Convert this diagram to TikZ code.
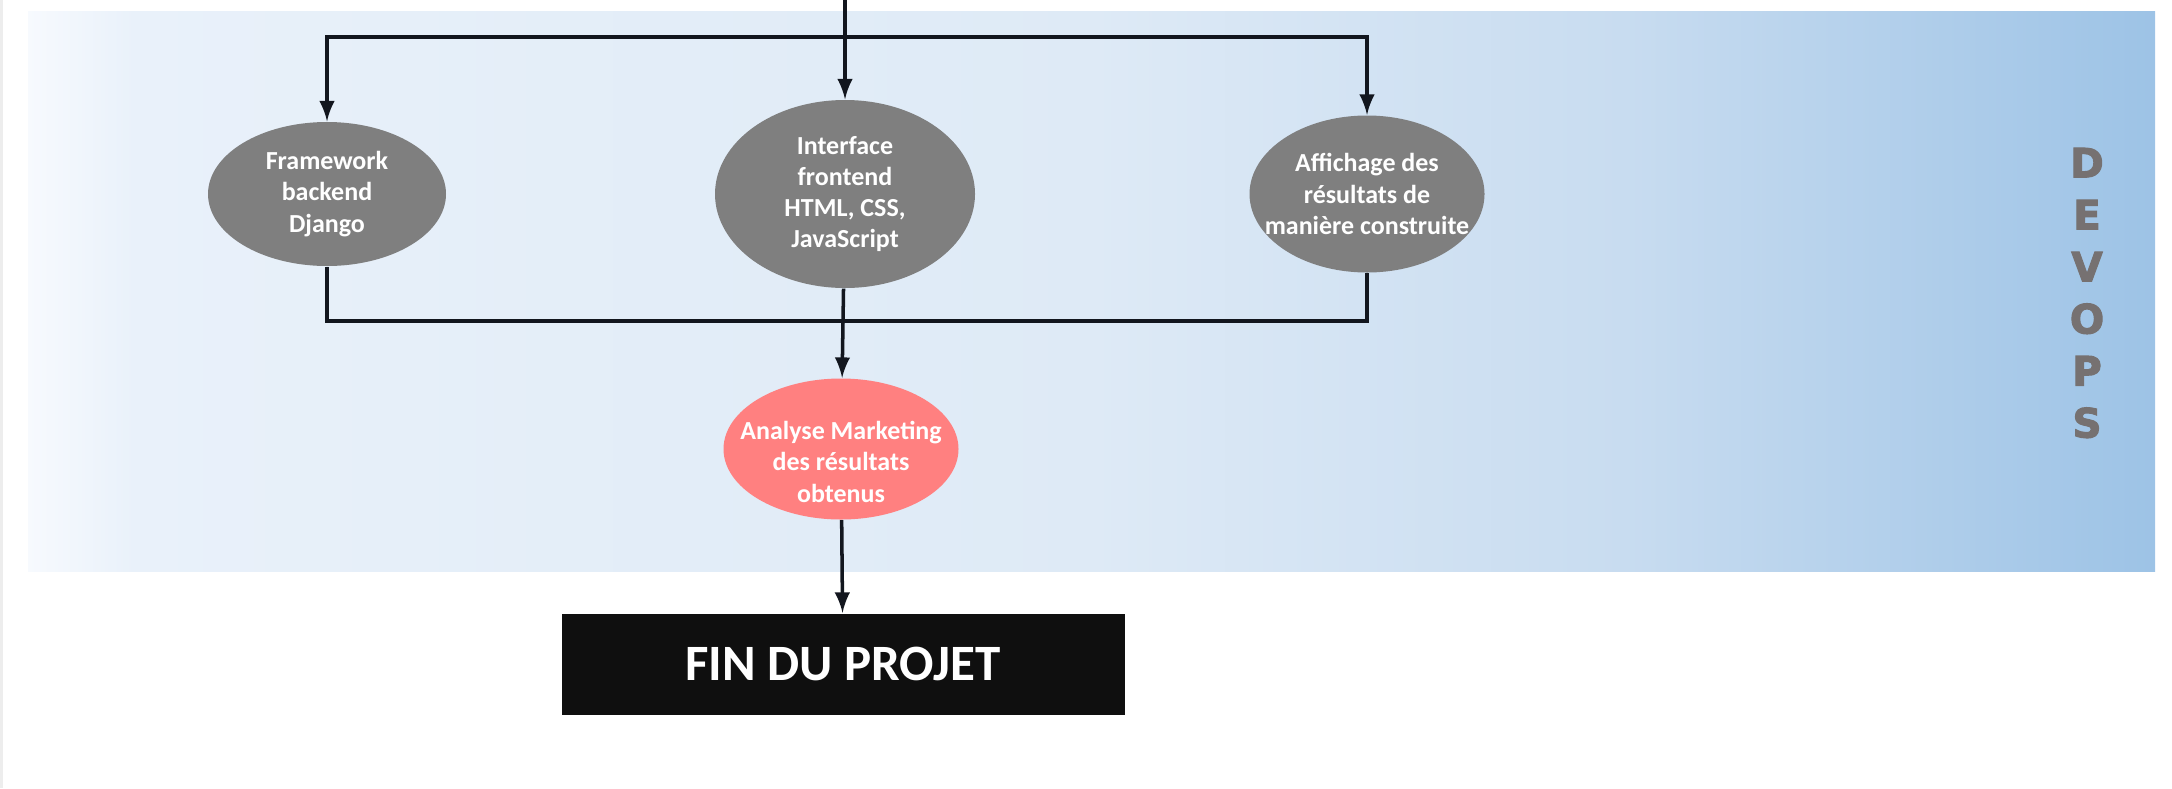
\documentclass[tikz,border=0pt]{standalone}
\usepackage{fontspec}
\setmainfont{Carlito}
\newfontfamily\heavyfont[BoldFeatures={FakeBold=2.6}]{DejaVu Sans}
\usepackage{xcolor}
\usetikzlibrary{shapes.geometric, arrows, positioning, calc}
\definecolor{bandwhite}{RGB}{247,250,254}
\definecolor{bandpale}{RGB}{233,241,250}
\definecolor{bandmid}{RGB}{222,234,246}
\definecolor{bandsoft}{RGB}{200,220,240}
\definecolor{bandblue}{RGB}{157,195,230}
\definecolor{stepgray}{RGB}{127,127,127}
\definecolor{salmon}{RGB}{255,128,128}
\definecolor{devgray}{RGB}{118,113,113}
\definecolor{ink}{RGB}{18,22,30}
\pgfdeclarehorizontalshading{devopsband}{100bp}{color(0bp)=(bandwhite); color(25bp)=(bandwhite); color(27.5bp)=(bandpale); color(50bp)=(bandmid); color(62.5bp)=(bandsoft); color(75bp)=(bandblue); color(100bp)=(bandblue)}

\begin{document}
\begin{tikzpicture}[
    >=latex,
    flow/.style={->, line width=1pt, ink},
    task/.style={ellipse, fill=stepgray, inner xsep=-12pt, inner ysep=-6pt, align=center, text=white, font=\bfseries\fontsize{7.4}{8.9}\selectfont},
    endbox/.style={rectangle, fill=black!94, inner sep=0pt, minimum width=5.63cm, minimum height=1.01cm, text=white, font=\bfseries\fontsize{14.5}{17}\selectfont}
]
\useasboundingbox (0,0) rectangle (21.72,-7.88);

% background band
\fill[black!7] (0,0) rectangle (0.03,-7.88);
\shade[shading=devopsband] (0.28,-0.11) rectangle (21.55,-5.71);

\node[task, minimum width=2.38cm, minimum height=1.44cm] (fw) at (3.27,-1.94) {Framework\\backend\\Django};
\node[task, minimum width=2.60cm, minimum height=1.88cm] (front) at (8.45,-1.94) {Interface\\frontend\\HTML, CSS,\\JavaScript};
\node[task, minimum width=2.35cm, minimum height=1.57cm] (aff) at (13.67,-1.94) {Affichage des\\résultats de\\manière construite};
\node[task, fill=salmon, minimum width=2.35cm, minimum height=1.41cm] (ana) at (8.41,-4.49) {\rule{0pt}{12.5pt}Analyse Marketing\\des résultats\\obtenus};
\node[endbox] (fin) at (8.43,-6.64) {FIN DU PROJET};

\node[text=devgray, font=\heavyfont\bfseries\fontsize{11.5}{14.8}\selectfont, align=center] (devops) at (20.87,-2.93) {D\\E\\V\\O\\P\\S};

% connectors
\coordinate (in) at (8.45,0);
\coordinate (split) at (8.45,-0.37);
\coordinate (join) at (8.45,-3.21);
\draw[flow] (in) -- (front);
\draw[flow] (split) -| (fw.north);
\draw[flow] (split) -| (aff.north);
\draw[line width=1pt, ink] (fw.south) |- (join) -| (aff.south);
\draw[flow] (front) -- (ana);
\draw[flow] (ana) -- (fin);

\end{tikzpicture}
\end{document}
